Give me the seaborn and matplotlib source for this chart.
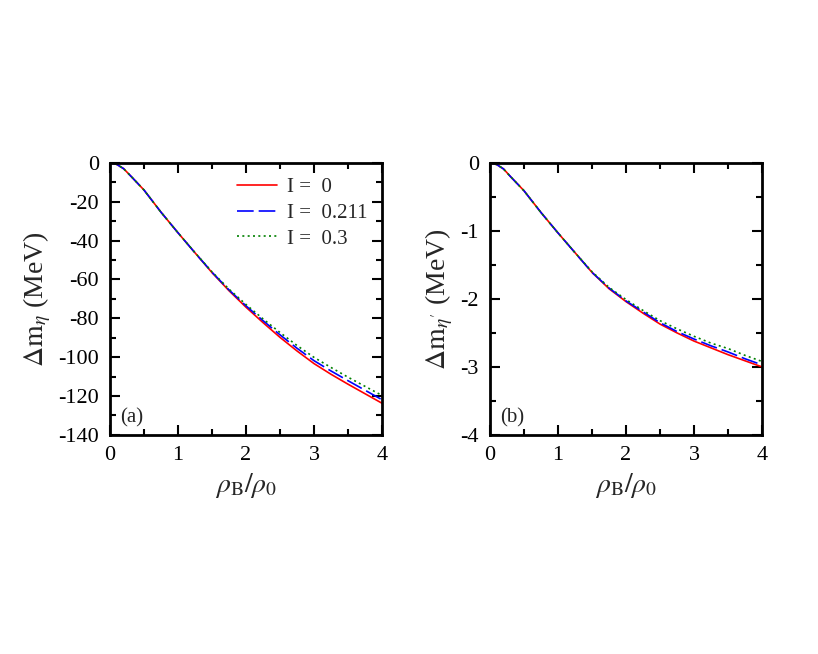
import pandas as pd
import matplotlib
matplotlib.use("Agg")
import matplotlib.pyplot as plt
import seaborn as sns
from matplotlib.ticker import MultipleLocator

# density ratio rho_B / rho_0
rho = [0, 0.1, 0.2, 0.3, 0.5, 0.75, 1.0, 1.25, 1.5, 1.75, 2.0, 2.25, 2.5, 2.75, 3.0, 3.25, 3.5, 3.75, 4.0]

# panel (a): eta mass shift (MeV)
eta_I0 = [0, -0.8, -3.0, -6.6, -14.0, -25.4, -36.0, -46.3, -56.5, -65.8, -74.3, -82.2,
          -89.8, -96.8, -103.3, -108.8, -113.9, -118.8, -123.7]
eta_I0211 = [0, -0.8, -3.0, -6.6, -14.0, -25.4, -36.0, -46.3, -56.3, -65.4, -73.6, -81.2,
             -88.5, -95.4, -101.8, -107.1, -112.1, -117.0, -121.9]
eta_I03 = [0, -0.8, -3.0, -6.6, -14.0, -25.4, -36.0, -46.2, -56.1, -65.0, -72.9, -80.3,
           -87.3, -94.0, -100.1, -105.3, -110.3, -115.0, -119.7]

# panel (b): eta' mass shift (MeV)
etap_I0 = [0, -0.025, -0.09, -0.2, -0.41, -0.73, -1.03, -1.32, -1.61, -1.85, -2.04, -2.21,
           -2.37, -2.50, -2.62, -2.72, -2.82, -2.91, -3.0]
etap_I0211 = [0, -0.025, -0.09, -0.2, -0.41, -0.73, -1.03, -1.32, -1.61, -1.84, -2.03, -2.19,
              -2.35, -2.48, -2.59, -2.69, -2.78, -2.88, -2.97]
etap_I03 = [0, -0.025, -0.09, -0.2, -0.41, -0.73, -1.03, -1.32, -1.60, -1.83, -2.01, -2.17,
            -2.32, -2.44, -2.55, -2.65, -2.73, -2.83, -2.92]

labels = ['I =  0', 'I =  0.211', 'I =  0.3']
colors = ['red', 'blue', 'green']
styles = ['-', (0, (10, 3)), (0, (1.2, 2.0))]

sns.set_theme(style="ticks")
plt.rcParams['font.family'] = ['Liberation Serif', 'DejaVu Serif']
plt.rcParams['mathtext.fontset'] = 'stix'
plt.rcParams['axes.unicode_minus'] = False

fig = plt.figure(figsize=(8.18, 6.54), dpi=100)
ax1 = fig.add_axes([0.1345, 0.335, 0.3325, 0.416])
ax2 = fig.add_axes([0.599, 0.335, 0.3325, 0.416])

panels = [
    (ax1, [eta_I0, eta_I0211, eta_I03], (-140, 0), 20, 10, r'$\Delta\mathrm{m}_{\eta}$ (MeV)', '(a)'),
    (ax2, [etap_I0, etap_I0211, etap_I03], (-4, 0), 1, 0.5, r"$\Delta\mathrm{m}_{\eta'}$ (MeV)", '(b)'),
]

for ax, series, ylim, major, minor, ylabel, tag in panels:
    for vals, lab, col, ls in zip(series, labels, colors, styles):
        df = pd.DataFrame({'rho': rho, 'dm': vals})
        sns.lineplot(data=df, x='rho', y='dm', ax=ax, color=col, linestyle=ls,
                     linewidth=1.2, label=lab, legend=False)
    ax.set_xlim(0, 4)
    ax.set_ylim(*ylim)
    ax.xaxis.set_major_locator(MultipleLocator(1))
    ax.xaxis.set_minor_locator(MultipleLocator(0.5))
    ax.yaxis.set_major_locator(MultipleLocator(major))
    ax.yaxis.set_minor_locator(MultipleLocator(minor))
    ax.tick_params(which='both', direction='in', top=True, right=True,
                   width=1.5, labelsize=16, pad=8, colors='black')
    ax.tick_params(which='major', length=7)
    ax.tick_params(which='minor', length=4)
    for sp in ax.spines.values():
        sp.set_linewidth(2)
        sp.set_color('black')
    ax.set_xlabel(r'$\rho_{\mathrm{B}}/\rho_0$', fontsize=20, labelpad=4)
    ax.set_ylabel(ylabel, fontsize=20, labelpad=4)
    ax.text(0.037, 0.045, tag, transform=ax.transAxes, fontsize=15)

ax1.legend(loc='upper right', frameon=False, fontsize=15, handlelength=1.9,
           handletextpad=0.5, borderaxespad=0.3, labelspacing=0.3,
           bbox_to_anchor=(1.0, 1.0))

fig.savefig('out.png', dpi=100)
